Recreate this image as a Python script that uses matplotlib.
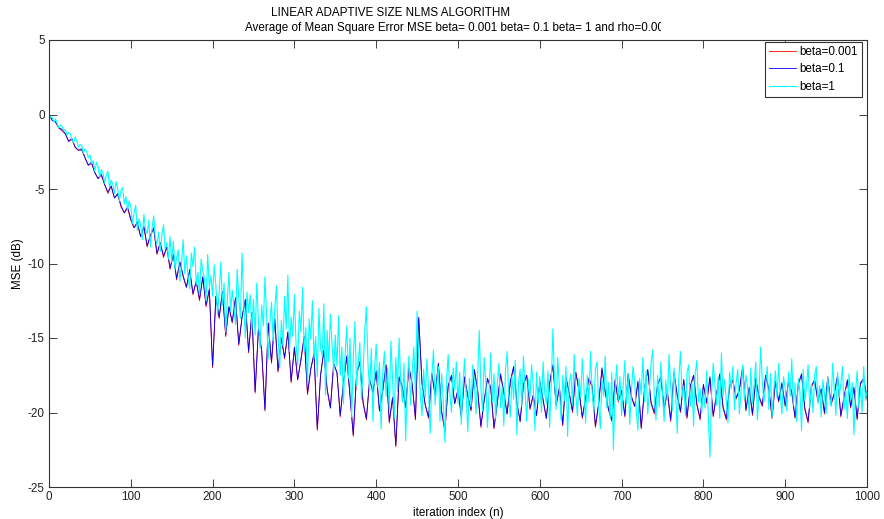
import numpy as np
import matplotlib.pyplot as plt
from matplotlib.transforms import Bbox

plt.rcParams['font.family'] = ['Liberation Sans', 'DejaVu Sans']
plt.rcParams['axes.unicode_minus'] = False

# beta=1 (cyan), every 2nd iteration
n_cyan = np.arange(0, 1001, 2)
mse_beta1 = [
    0.0, -0.2, -0.2, -0.5, -0.3, -0.6, -0.9, -0.7, -0.8, -1.1, -1.0, -1.4, -1.2, -1.3, -1.7, -1.9, -1.5, -1.8, -2.2, -2.0, -2.1, -2.6, -2.3, -2.5, -2.9,
    -2.7, -3.3, -3.1, -3.8, -3.2, -3.5, -4.2, -3.7, -3.9, -4.6, -4.1, -3.8, -4.9, -4.4, -4.7, -5.3, -4.5, -5.0, -5.8, -5.1, -4.9, -6.0, -5.5, -6.4, -5.8,
    -6.2, -7.3, -6.6, -6.1, -7.8, -7.0, -7.4, -8.4, -6.7, -7.7, -8.0, -7.1, -8.9, -7.6, -6.8, -8.3, -8.7, -7.9, -9.2, -8.1, -7.4, -9.0, -8.6, -9.7, -8.2,
    -9.9, -8.5, -10.4, -9.6, -9.1, -11.2, -10.0, -8.4, -10.7, -9.5, -10.9, -11.7, -9.3, -10.2, -8.9, -11.4, -10.6, -12.1, -9.7, -10.5, -11.0, -12.5, -9.4, -11.6, -10.8,
    -12.2, -10.1, -11.5, -13.4, -12.0, -9.9, -12.8, -11.3, -14.6, -12.5, -10.6, -13.2, -11.8, -12.9, -14.1, -10.4, -12.3, -13.7, -9.3, -12.6, -15.0, -11.9, -13.3, -12.1, -14.4,
    -12.4, -14.8, -11.3, -13.9, -15.7, -12.8, -14.2, -10.9, -13.5, -16.4, -14.0, -12.6, -15.2, -13.1, -11.5, -14.7, -17.0, -13.8, -15.5, -12.2, -14.4, -10.8, -15.9, -13.6, -14.9,
    -12.1, -15.4, -16.8, -13.2, -14.6, -11.6, -15.9, -14.3, -18.1, -13.7, -15.1, -12.5, -16.4, -14.9, -17.6, -13.0, -15.7, -16.2, -12.7, -18.8, -14.5, -16.6, -13.4, -15.3, -17.3,
    -14.8, -16.9, -13.5, -17.5, -15.6, -19.4, -16.1, -14.2, -17.7, -15.0, -20.3, -16.4, -13.9, -18.2, -16.7, -15.3, -19.1, -17.2, -14.6, -12.9, -16.8, -18.5, -15.7, -20.6, -17.1,
    -15.4, -18.3, -16.6, -21.1, -17.4, -15.9, -18.9, -17.0, -19.8, -15.2, -17.7, -20.4, -16.3, -18.6, -15.0, -17.9, -19.3, -16.7, -21.9, -18.0, -16.2, -19.5, -17.3, -15.6, -18.8,
    -13.2, -16.5, -18.9, -20.2, -17.1, -19.0, -16.4, -18.3, -21.4, -17.6, -15.8, -19.5, -18.1, -16.9, -20.6, -17.4, -19.2, -22.0, -17.8, -16.1, -18.7, -20.0, -17.0, -18.5, -16.6,
    -19.4, -17.3, -20.8, -18.2, -16.4, -18.9, -21.3, -17.7, -19.6, -16.8, -18.0, -20.1, -17.5, -14.5, -18.4, -19.9, -16.3, -17.9, -21.0, -18.6, -16.0, -19.3, -17.4, -20.4, -18.1,
    -16.7, -19.7, -18.3, -20.9, -17.2, -15.9, -18.8, -20.3, -17.6, -19.1, -16.5, -21.5, -18.0, -17.1, -19.6, -16.2, -18.5, -20.6, -17.8, -19.0, -16.8, -18.2, -21.2, -17.3, -19.4,
    -17.6, -20.0, -16.6, -18.7, -19.4, -17.2, -21.0, -18.1, -14.4, -17.9, -19.8, -16.3, -18.4, -20.5, -17.5, -19.2, -16.9, -21.6, -18.0, -17.4, -19.5, -16.1, -18.8, -20.2, -17.7,
    -19.0, -16.4, -18.3, -20.7, -17.5, -19.3, -15.9, -18.6, -20.0, -17.1, -16.6, -19.5, -21.1, -17.8, -18.9, -16.2, -19.7, -18.0, -20.4, -17.3, -22.5, -18.5, -16.8, -19.2, -17.6,
    -20.2, -18.1, -16.5, -19.4, -17.4, -20.8, -18.6, -16.9, -17.9, -19.9, -21.2, -17.7, -18.8, -16.3, -19.3, -17.2, -20.1, -18.4, -16.7, -15.8, -18.9, -20.5, -17.5, -19.6, -16.6,
    -18.7, -20.6, -17.8, -19.2, -16.1, -18.3, -19.9, -17.0, -18.6, -21.4, -17.6, -15.9, -19.0, -18.2, -20.2, -17.3, -16.8, -19.6, -18.0, -20.9, -17.4, -16.5, -19.3, -18.4, -20.0,
    -18.5, -19.7, -17.2, -20.3, -23.0, -18.8, -16.7, -18.1, -19.5, -17.6, -20.4, -16.0, -18.9, -17.8, -19.2, -20.7, -17.3, -18.4, -16.9, -19.8, -18.0, -17.1, -20.1, -18.6, -16.8,
    -19.1, -17.5, -18.3, -20.2, -17.0, -19.4, -18.1, -16.6, -20.5, -18.7, -15.6, -17.9, -19.3, -18.2, -16.9, -19.8, -17.4, -20.3, -18.5, -17.2, -19.0, -16.7, -18.8, -20.1, -17.6,
    -18.4, -19.9, -17.3, -18.9, -16.4, -19.5, -18.0, -20.6, -17.7, -18.6, -21.2, -17.1, -19.2, -18.3, -16.8, -19.7, -18.1, -20.0, -17.5, -16.9, -19.4, -18.2, -20.3, -17.8, -18.7,
    -20.1, -17.6, -18.9, -19.6, -16.7, -18.4, -20.2, -17.3, -19.0, -18.1, -16.9, -19.8, -18.5, -20.4, -17.4, -19.1, -18.0, -21.5, -18.6, -17.2, -19.7, -18.3, -20.0, -16.9, -19.2, -18.6,
]

# beta=0.1 (blue) and beta=0.001 (red), every 4th iteration
n_slow = np.arange(0, 1001, 4)
mse_beta01 = [
    0.0, -0.4, -0.5, -0.9, -1.0, -1.3, -1.8, -1.6, -2.2, -2.4, -2.3, -2.9, -3.4, -3.2, -3.9, -4.3, -4.0, -4.7, -5.2, -4.8, -5.6, -5.3, -6.1, -6.6, -6.2,
    -7.0, -7.6, -7.2, -8.2, -7.5, -8.8, -8.1, -7.6, -9.3, -8.6, -9.5, -8.9, -10.3, -9.4, -11.0, -9.9, -10.8, -11.6, -10.4, -12.0, -11.2, -12.4, -10.9, -12.8, -11.7,
    -16.9, -12.2, -13.6, -11.9, -14.8, -12.9, -13.9, -12.3, -15.4, -13.6, -12.4, -15.9, -13.3, -18.6, -14.4, -15.8, -19.8, -14.0, -16.6, -13.7, -17.2, -15.0, -16.3, -14.6, -17.9,
    -15.6, -17.8, -16.4, -14.9, -18.7, -17.1, -16.0, -21.1, -17.5, -15.8, -18.4, -19.7, -16.7, -17.3, -20.2, -18.0, -16.2, -18.9, -21.5, -17.4, -16.6, -19.3, -20.4, -17.8, -18.6,
    -17.2, -19.9, -18.5, -16.8, -20.6, -19.0, -22.2, -17.6, -18.3, -19.6, -16.9, -18.1, -20.4, -13.6, -18.0, -19.5, -20.3, -17.4, -18.8, -16.7, -19.9, -21.2, -18.2, -17.5, -19.4,
    -18.4, -20.3, -17.6, -18.9, -19.8, -17.1, -18.5, -20.9, -19.2, -17.7, -18.3, -21.0, -19.4, -17.4, -18.6, -20.1, -17.9, -16.9, -19.3, -20.6, -18.1, -17.5, -19.7, -18.8, -20.2,
    -17.9, -19.1, -20.4, -18.0, -16.8, -19.5, -18.3, -20.8, -17.6, -18.7, -19.9, -17.3, -18.5, -20.3, -19.0, -17.7, -18.2, -20.9, -19.4, -17.0, -18.6, -19.8, -20.5, -17.8, -19.2,
    -18.5, -20.2, -17.4, -18.9, -19.6, -17.9, -21.0, -18.4, -17.1, -19.3, -20.0, -18.1, -17.6, -19.7, -18.6, -20.5, -17.3, -18.8, -19.9, -17.8, -20.3, -18.2, -17.5, -19.4, -20.4,
    -18.1, -19.3, -17.6, -20.2, -18.8, -17.4, -19.6, -20.4, -18.2, -17.8, -19.0, -18.5, -16.9, -19.8, -18.3, -20.1, -17.7, -18.9, -19.5, -17.5, -18.4, -20.3, -17.9, -19.2, -18.0,
    -19.5, -17.9, -18.6, -20.3, -18.1, -17.4, -19.7, -20.6, -18.2, -17.8, -19.2, -18.4, -20.0, -17.6, -19.4, -18.7, -17.5, -20.2, -18.9, -17.8, -19.6, -18.3, -20.4, -18.0, -17.7, -19.0,
]
mse_beta0001 = [
    0.0, -0.4, -0.5, -0.9, -1.1, -1.3, -1.8, -1.7, -2.2, -2.4, -2.4, -2.9, -3.4, -3.3, -3.9, -4.3, -4.1, -4.7, -5.3, -4.8, -5.6, -5.4, -6.2, -6.6, -6.3,
    -7.1, -7.6, -7.3, -8.2, -7.6, -8.9, -8.1, -7.7, -9.4, -8.6, -9.6, -8.9, -10.4, -9.4, -11.1, -9.9, -10.9, -11.6, -10.5, -12.1, -11.2, -12.5, -10.9, -12.9, -11.8,
    -17.0, -12.2, -13.7, -11.9, -14.9, -12.9, -14.0, -12.3, -15.5, -13.6, -12.5, -16.0, -13.3, -18.7, -14.4, -15.9, -19.9, -14.0, -16.7, -13.7, -17.3, -15.0, -16.4, -14.6, -18.0,
    -15.7, -17.8, -16.5, -14.9, -18.8, -17.1, -16.1, -21.2, -17.5, -15.9, -18.5, -19.7, -16.8, -17.3, -20.3, -18.0, -16.3, -18.9, -21.6, -17.5, -16.6, -19.4, -20.5, -17.8, -18.7,
    -17.3, -19.9, -18.6, -16.8, -20.7, -19.0, -22.3, -17.7, -18.3, -19.7, -17.0, -18.1, -20.5, -13.7, -18.1, -19.5, -20.4, -17.4, -18.9, -16.7, -20.0, -21.3, -18.2, -17.6, -19.4,
    -18.5, -20.3, -17.7, -18.9, -19.9, -17.2, -18.5, -21.0, -19.2, -17.8, -18.4, -21.1, -19.4, -17.5, -18.7, -20.1, -18.0, -17.0, -19.4, -20.6, -18.2, -17.5, -19.8, -18.9, -20.2,
    -18.0, -19.2, -20.4, -18.1, -16.9, -19.5, -18.4, -20.9, -17.7, -18.7, -20.0, -17.3, -18.6, -20.4, -19.0, -17.8, -18.3, -21.0, -19.4, -17.1, -18.7, -19.8, -20.6, -17.9, -19.3,
    -18.6, -20.3, -17.5, -19.0, -19.6, -18.0, -21.1, -18.4, -17.2, -19.4, -20.1, -18.1, -17.7, -19.8, -18.6, -20.6, -17.4, -18.9, -20.0, -17.8, -20.4, -18.3, -17.5, -19.5, -20.5,
    -18.2, -19.4, -17.7, -20.3, -18.8, -17.5, -19.7, -20.5, -18.3, -17.9, -19.1, -18.5, -17.0, -19.9, -18.4, -20.2, -17.8, -19.0, -19.6, -17.6, -18.5, -20.4, -18.0, -19.3, -18.1,
    -19.6, -18.0, -18.7, -20.4, -18.1, -17.5, -19.8, -20.7, -18.3, -17.9, -19.3, -18.5, -20.1, -17.7, -19.5, -18.8, -17.6, -20.3, -19.0, -17.9, -19.7, -18.4, -20.5, -18.1, -17.8, -19.1,
]

labels = ['beta=0.001', 'beta=0.1', 'beta=1']
x_ticks = [0, 100, 200, 300, 400, 500, 600, 700, 800, 900, 1000]
y_ticks = [5, 0, -5, -10, -15, -20, -25]

W, H = 884, 519
fs = 8.4
fig = plt.figure(figsize=(W / 100, H / 100), dpi=100)
ax = fig.add_axes([49 / W, 32 / H, 818 / W, 447 / H])

ax.plot(n_slow, mse_beta0001, color='#ff0000', lw=0.6, label=labels[0])
ax.plot(n_slow, mse_beta01, color='#0000ff', lw=0.6, label=labels[1])
ax.plot(n_cyan, mse_beta1, color='#00ffff', lw=0.8, label=labels[2])

ax.set_xlim(0, 1000)
ax.set_ylim(-25, 5)
ax.set_xticks(x_ticks)
ax.set_yticks(y_ticks)
ax.tick_params(direction='in', length=6, width=0.6, top=True, right=True,
               labelsize=fs, pad=3, colors='#222222')
for s in ax.spines.values():
    s.set_linewidth(0.8)
    s.set_color('#333333')

ax.set_xlabel('iteration index (n)', fontsize=fs, labelpad=3)
ax.set_ylabel('MSE (dB)', fontsize=fs, labelpad=3)

leg = ax.legend(loc='upper right', bbox_to_anchor=(1 - 5 / 818, 1 - 2 / 447),
                borderaxespad=0, fontsize=fs, fancybox=False, framealpha=1,
                edgecolor='#333333', handlelength=2.3, handletextpad=0.3,
                labelspacing=0.45, borderpad=0.35)
leg.get_frame().set_linewidth(0.8)

fig.text(391 / W, 1 - 13 / H, 'LINEAR ADAPTIVE SIZE NLMS ALGORITHM',
         ha='center', va='center', fontsize=fs)
t = fig.text(245 / W, 1 - 28 / H,
             'Average of Mean Square Error MSE beta= 0.001 beta= 0.1 beta= 1 and rho=0.00',
             ha='left', va='center', fontsize=fs)
t.set_clip_box(Bbox.from_extents(0, 0, 661, H))
t.set_clip_on(True)

fig.savefig('out.png', dpi=100)
